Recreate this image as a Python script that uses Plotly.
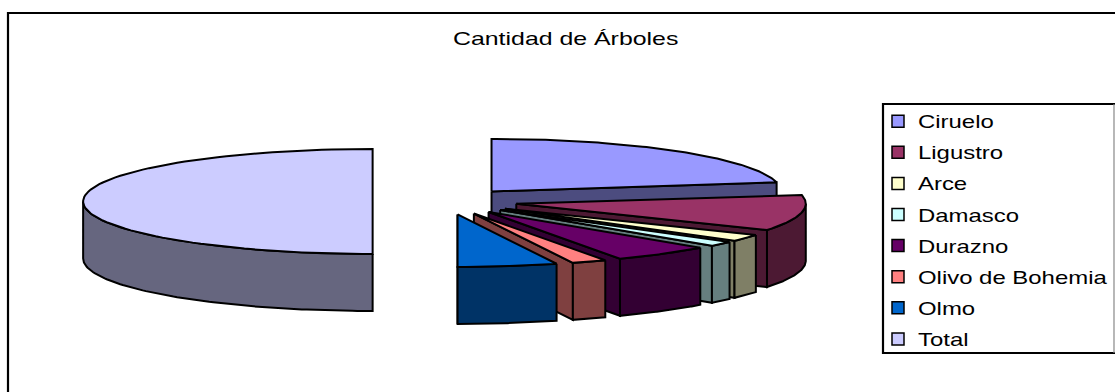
import numpy as np
import plotly.graph_objects as go

# datos del grafico
categorias = ['Ciruelo', 'Ligustro', 'Arce', 'Damasco', 'Durazno', 'Olivo de Bohemia', 'Olmo', 'Total']
valores = [80, 40, 7.6, 5.4, 20, 7, 20, 180]
colores = ['#9999FF', '#993366', '#FFFFCC', '#CCFFFF', '#660066', '#FF8080', '#0066CC', '#CCCCFF']

ANCHO, ALTO = 1115, 392
# pastel en pixeles: centro, radios de la elipse, altura y separacion
CX, CY, RX, RY = 445, 201.5, 289.5, 52.5
ALTURA = 57 / RY
PULL = 0.25


def oscuro(color):
    r, g, b = [int(color[i:i + 2], 16) // 2 for i in (1, 3, 5)]
    return f'rgb({r},{g},{b})'


def cara(fig, x, y, color):
    fig.add_trace(go.Scatter(x=x, y=y, mode='lines', fill='toself', fillcolor=color,
                             line=dict(color='black', width=2), showlegend=False, hoverinfo='skip'))


def linea(x0, y0, x1, y1, ancho=2.2, color='black'):
    return dict(type='line', xref='paper', yref='paper', x0=x0 / ANCHO, x1=x1 / ANCHO,
                y0=1 - y0 / ALTO, y1=1 - y1 / ALTO, line=dict(color=color, width=ancho), layer='below')


fig = go.Figure()
angulos = np.cumsum([0] + valores) / sum(valores) * 2 * np.pi

# la porcion Total se dibuja primero porque queda detras
orden = [7, 0, 1, 2, 3, 4, 5, 6]
for i in orden:
    a0, a1 = angulos[i], angulos[i + 1]
    medio = (a0 + a1) / 2
    ox, oy = PULL * np.sin(medio), PULL * np.cos(medio)
    t = np.linspace(a0, a1, 90)
    borde_x, borde_y = ox + np.sin(t), oy + np.cos(t)

    # cara plana del corte final
    fin_x, fin_y = ox + np.sin(a1), oy + np.cos(a1)
    if a1 < np.pi * 1.01:
        cara(fig, [ox, fin_x, fin_x, ox, ox], [oy, fin_y, fin_y - ALTURA, oy - ALTURA, oy], oscuro(colores[i]))

    # parte curva que mira al frente
    f = np.linspace(max(a0, np.pi / 2), min(a1, np.pi * 1.5), 90)
    if f[-1] > f[0]:
        fx, fy = ox + np.sin(f), oy + np.cos(f)
        cara(fig, np.r_[fx, fx[::-1], fx[0]], np.r_[fy, fy[::-1] - ALTURA, fy[0]], oscuro(colores[i]))

    # tapa de la porcion
    cara(fig, np.r_[ox, borde_x, ox], np.r_[oy, borde_y, oy], colores[i])

# leyenda
for nombre, color in zip(categorias, colores):
    fig.add_trace(go.Scatter(x=[None], y=[None], mode='markers', name=nombre, legendgroup=nombre,
                             marker=dict(symbol='square', size=12, color=color, line=dict(color='black', width=1.5))))

fig.update_layout(
    width=ANCHO, height=ALTO,
    margin=dict(l=0, r=0, t=0, b=0, pad=0),
    paper_bgcolor='white', plot_bgcolor='white',
    font=dict(family='Liberation Sans', color='black'),
    title=dict(text='Cantidad de Árboles', x=453 / ANCHO, xanchor='left', y=1 - 38 / ALTO, yanchor='middle',
               font=dict(size=19, color='black')),
    xaxis=dict(visible=False, range=[-CX / RX, (ANCHO - CX) / RX], domain=[0, 1]),
    yaxis=dict(visible=False, range=[(CY - ALTO) / RY, CY / RY], domain=[0, 1]),
    legend=dict(x=878 / ANCHO, xanchor='left', y=1 - 103 / ALTO, yanchor='top', traceorder='grouped',
                tracegroupgap=4.7, font=dict(size=18, color='black'), bgcolor='rgba(0,0,0,0)', borderwidth=0),
    shapes=[
        # marco: solo se ve arriba y a la izquierda
        linea(8, 13, ANCHO, 13),
        linea(8, 12, 8, ALTO),
        # caja de la leyenda
        linea(883, 104, ANCHO, 104),
        linea(883, 353, ANCHO, 353),
        linea(883, 103, 883, 354),
        linea(1114, 104, 1114, 353, 1.2, '#888888'),
    ],
)

# el texto original esta estirado a lo ancho
estilo = """var s=document.createElement('style');
s.textContent='body{margin:0;}.legend .scrollbox{clip-path:none;}'
 +'.legendtext{transform-box:fill-box;transform-origin:left center;transform:scaleX(1.33);}'
 +'.gtitle{transform-box:fill-box;transform-origin:left center;transform:scaleX(1.31);}';
document.head.appendChild(s);"""

fig.write_html('out.html', post_script=estilo, config={'displayModeBar': False})
print('ok')
